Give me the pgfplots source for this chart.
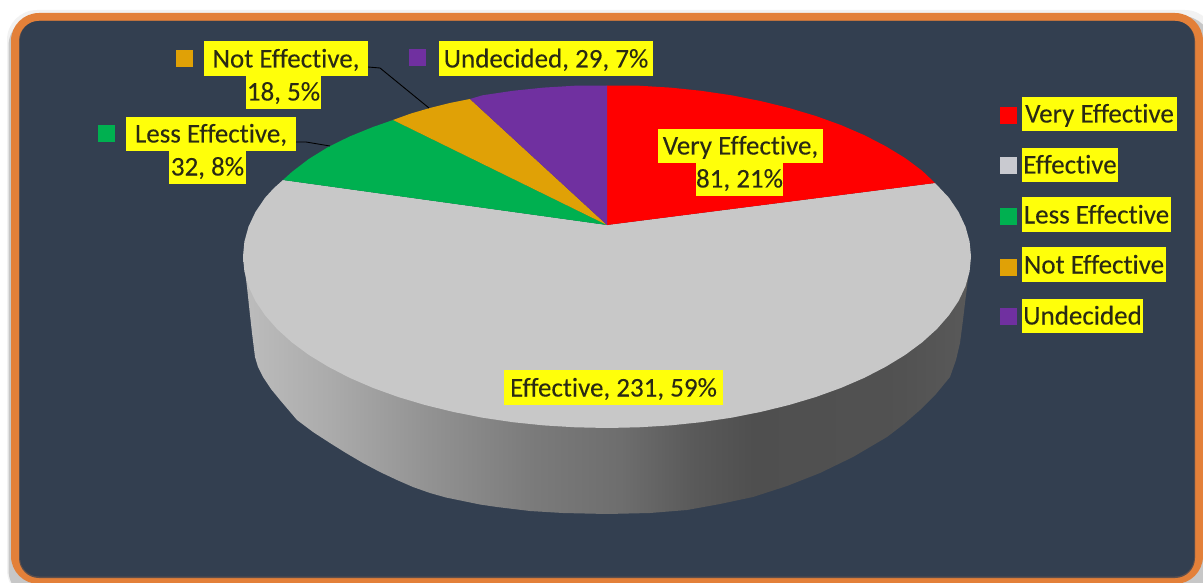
\documentclass[border=0pt]{standalone}
\usepackage{pgfplots}
\pgfplotsset{compat=1.18}
\usepackage{fontspec}
\setmainfont{Carlito}[BoldFont=Carlito,BoldFeatures={FakeBold=0.1},Ligatures=NoCommon]
\definecolor{panel}{HTML}{333F50}
\definecolor{rim}{HTML}{E38039}
\definecolor{rimdark}{HTML}{5E4F4C}
\definecolor{slicered}{HTML}{FF0000}
\definecolor{slicegray}{HTML}{C8C8C8}
\definecolor{keygray}{HTML}{C9CAD0}
\definecolor{slicegreen}{HTML}{00B050}
\definecolor{sliceamber}{HTML}{E0A106}
\definecolor{slicepurple}{HTML}{7030A0}
\definecolor{labelink}{HTML}{2A2A14}
\definecolor{labelbg}{HTML}{FFFF0A}
% grey ramp of the cylinder wall, lit from the left
\pgfdeclarehorizontalshading{wall}{100bp}{
  color(0bp)=(black!26);
  color(25bp)=(black!26);
  color(31bp)=(black!33);
  color(38bp)=(black!43);
  color(45bp)=(black!52);
  color(51bp)=(black!57);
  color(56bp)=(black!65);
  color(60bp)=(black!69);
  color(70bp)=(black!68);
  color(75bp)=(black!65);
  color(100bp)=(black!65)}
\tikzset{
  lab/.style={fill=labelbg,text=labelink,inner sep=0pt,
    font=\fontsize{27}{27}\bfseries\selectfont,anchor=center,align=center}
}
% label box given by its left, right, top and bottom edges; baseline 8.5 units above the bottom
\newcommand{\labbox}[5]{%
  \path (axis cs:#1,#3) -- (axis cs:#2,#4)
    node[midway,lab,minimum width=#2pt-#1pt,text depth=8.5pt,text height=#4pt-#3pt-8.5pt] {#5};}
\newcommand{\keysquare}[2]{%
  \addplot[only marks,mark=square*,mark size=8pt,mark options={draw=#1,fill=#1}] coordinates {#2};}
\begin{document}
\begin{tikzpicture}
\begin{axis}[
  scale only axis,width=1203pt,height=583pt,
  xmin=0,xmax=1203,ymin=0,ymax=583,y dir=reverse,
  hide axis,clip=true]

% panel: soft shadow, orange rim, thin dark inner line, navy face
\fill[black!5,rounded corners=30pt] (axis cs:7,10) rectangle (axis cs:1215,600);
\fill[black!22,rounded corners=30pt] (axis cs:8.5,16) rectangle (axis cs:1212,600);
\fill[rim,rounded corners=28pt] (axis cs:11,13) rectangle (axis cs:1203,584);
\fill[rimdark,rounded corners=20pt] (axis cs:19,21) rectangle (axis cs:1195,578);
\fill[panel,rounded corners=19pt] (axis cs:20,21) rectangle (axis cs:1194,576.5);

% cylinder wall
\addplot[draw=none,shade,shading=wall] coordinates {
  (243,256) (247,287) (250,315) (252,333) (255,357) (258,367) (263,377) (271,389)
  (280,400) (297,420) (313,432) (330,443) (346,453) (363,463) (380,472) (397,480)
  (413,487) (430,493) (446,497.5) (463,501) (480,504.5) (497,507) (530,511) (563,513)
  (607,514) (650,513) (687,510) (720,504) (753,497) (787,486) (820,473) (853,457)
  (870,447) (887,437) (904,424) (920,410) (936,394) (950,377) (956,360) (960,343)
  (963,320) (965,303) (967,287) (971,256) (607,225) (243,256)};

% Effective, 231
\addplot[fill=slicegray,draw=none] coordinates {
  (607,225) (935,183) (949,197.8) (958.6,212.1) (965.5,226.7) (969.6,241.6) (971,256.5)
  (969.6,271.4) (965.5,286.3) (958.6,300.9) (949,315.2) (936.9,329) (922.2,342.3)
  (905.2,354.9) (885.8,366.7) (864.4,377.8) (841,387.9) (815.8,397) (789,405)
  (760.8,411.9) (731.5,417.7) (701.2,422.2) (670.2,425.4) (638.7,427.3) (607,428)
  (575.3,427.3) (543.8,425.4) (512.8,422.2) (482.5,417.7) (453.2,411.9) (425,405)
  (398.2,397) (373,387.9) (349.6,377.8) (328.2,366.7) (308.8,354.9) (291.8,342.3)
  (277.1,329) (265,315.2) (255.4,300.9) (248.5,286.3) (244.4,271.4) (243,256.5)
  (244.4,241.6) (248.5,226.7) (255.4,212.1) (265,197.8) (274,188) (283,180) (607,225)};
% Very Effective, 81
\addplot[fill=slicered,draw=none] coordinates {
  (607,225) (607,85.5) (638.7,85.7) (670.2,87.6) (701.2,90.8) (731.5,95.3) (760.8,101.1)
  (789,108) (815.8,116) (841,125.1) (864.4,135.2) (885.8,146.3) (905.2,158.1)
  (922.2,170.8) (935,183) (607,225)};
% Less Effective, 32
\addplot[fill=slicegreen,draw=none] coordinates {
  (607,225) (283,180) (291.8,172) (308.8,159) (328.2,147) (349.6,136.5) (373,127) (393,120) (607,225)};
% Not Effective, 18
\addplot[fill=sliceamber,draw=none] coordinates {
  (607,225) (393,120) (411,113.5) (430,108) (450,103) (470,99) (607,225)};
% Undecided, 29
\addplot[fill=slicepurple,draw=none] coordinates {
  (607,225) (470,99) (482.5,95.3) (512.8,90.8) (543.8,87.6) (575.3,85.7) (607,85.5) (607,225)};

% leader lines
\addplot[black,line width=0.9pt] coordinates {(368,67) (380,68) (429,108)};
\addplot[black,line width=0.9pt] coordinates {(296,142) (306,142) (330,146)};

% legend keys and data label keys
\keysquare{slicered}{(1008,115)}
\keysquare{keygray}{(1008,165)}
\keysquare{slicegreen}{(1008,216) (106,133)}
\keysquare{sliceamber}{(1008,267) (184,58)}
\keysquare{slicepurple}{(1008,316) (417,57)}

% data labels
\labbox{204}{368}{41}{76}{Not Effective,}
\labbox{246}{321}{76}{109}{18, 5\%}
\labbox{126}{296}{117}{151}{Less Effective,}
\labbox{169}{246}{151}{184}{32, 8\%}
\labbox{439}{653}{41}{76}{Undecided, 29, 7\%}
\labbox{658}{823}{129}{163}{Very Effective,}
\labbox{696}{783}{163}{196}{81, 21\%}
\labbox{504}{723}{370}{405}{Effective, 231, 59\%}

% legend entries
\labbox{1022}{1177}{97}{131}{Very Effective}
\labbox{1022}{1118}{148}{182}{Effective}
\labbox{1022}{1171}{197}{232}{Less Effective}
\labbox{1022}{1166}{247}{282}{Not Effective}
\labbox{1022}{1143}{299}{333}{Undecided}
\end{axis}
\pgfresetboundingbox
\path[use as bounding box] (0,0) rectangle (1203pt,583pt);
\end{tikzpicture}
\end{document}
